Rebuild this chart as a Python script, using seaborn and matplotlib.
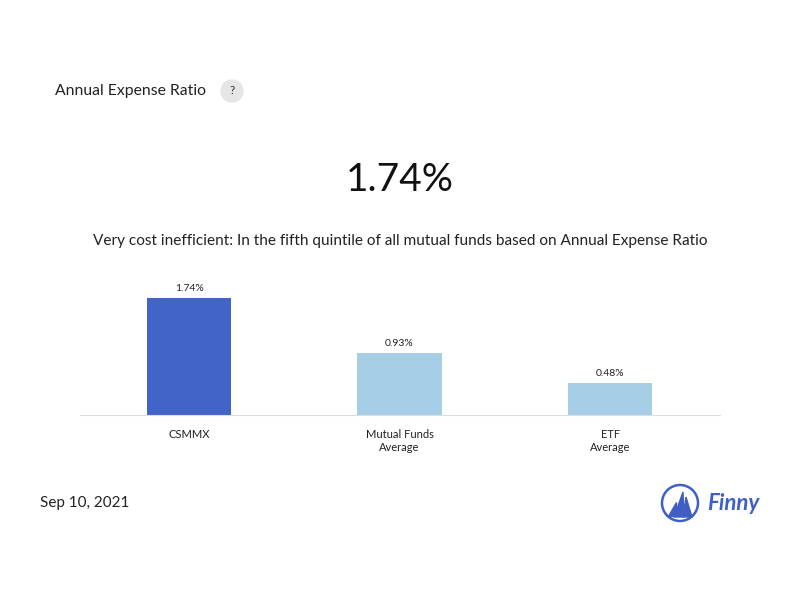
import matplotlib
matplotlib.use("Agg")
import matplotlib.pyplot as plt
import seaborn as sns
import pandas as pd
from matplotlib.patches import Ellipse, Polygon

categories = ["CSMMX", "Mutual Funds\nAverage", "ETF\nAverage"]
values = [1.74, 0.93, 0.48]
labels = ["1.74%", "0.93%", "0.48%"]
colors = ["#4263c8", "#a6cee6", "#a6cee6"]

plt.rcParams["font.family"] = "Lato"
fig = plt.figure(figsize=(8, 6), dpi=100)

ax = fig.add_axes([80 / 800, 185 / 600, 640 / 800, 135 / 600])
df = pd.DataFrame({"cat": categories, "val": values})
sns.barplot(data=df, x="cat", y="val", hue="cat", palette=colors, width=0.4,
            legend=False, ax=ax, saturation=1)
ax.set_xlim(-0.518, 2.522)
ax.set_ylim(0, 2.01)
for i, (v, t) in enumerate(zip(values, labels)):
    ax.text(i, v + 0.07, t, ha="center", va="bottom", fontsize=7.5, color="#222222")
for s in ["top", "right", "left"]:
    ax.spines[s].set_visible(False)
ax.spines["bottom"].set_color("#dddddd")
ax.set_yticks([])
ax.set_xlabel("")
ax.set_ylabel("")
ax.tick_params(axis="x", length=0, labelsize=8, colors="#222222", pad=10)


def circle(cx, cy, r, **kw):
    fig.patches.append(Ellipse((cx / 800, 1 - cy / 600), 2 * r / 800, 2 * r / 600,
                               transform=fig.transFigure, figure=fig, **kw))


fig.text(55 / 800, 1 - 91 / 600, "Annual Expense Ratio", fontsize=11.3, va="center", color="#222222")
circle(232, 91, 11, color="#e6e6e6")
fig.text(232 / 800, 1 - 91 / 600, "?", fontsize=8.5, ha="center", va="center", color="#333333")
fig.text(0.5, 1 - 180 / 600, "1.74%", fontsize=28, ha="center", va="center", color="#111111")
fig.text(0.5, 1 - 241 / 600,
         "Very cost inefficient: In the fifth quintile of all mutual funds based on Annual Expense Ratio",
         fontsize=11.1, ha="center", va="center", color="#222222")
fig.text(40 / 800, 1 - 503 / 600, "Sep 10, 2021", fontsize=11, va="center", color="#222222")

# logo
blue = "#3f5fc4"
circle(680, 503, 18, fill=False, edgecolor=blue, linewidth=1.8)
for pts in [[(668, 516), (676, 516), (676, 502)],
            [(674, 517), (684, 517), (683, 492)],
            [(683, 517), (692, 517), (686, 497)]]:
    fig.patches.append(Polygon([(x / 800, 1 - y / 600) for x, y in pts], closed=True,
                               transform=fig.transFigure, color=blue, figure=fig))
fig.text(707 / 800, 1 - 503 / 600, "Finny", fontsize=16, fontweight="bold", style="italic",
         va="center", color=blue)

fig.savefig("out.png", dpi=100)
